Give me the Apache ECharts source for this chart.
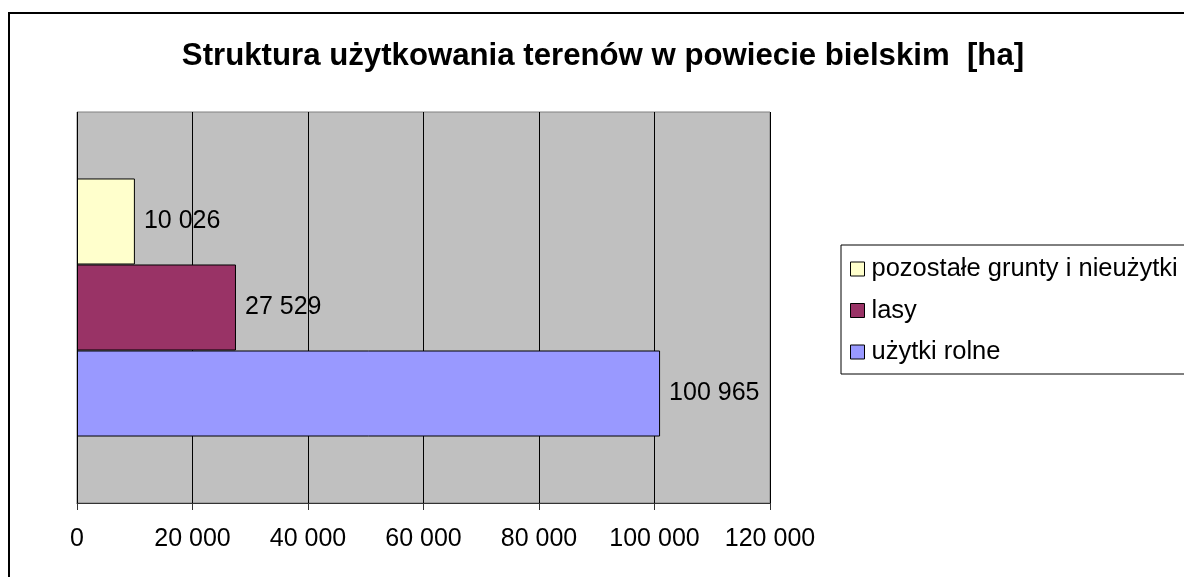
<!DOCTYPE html>
<html>
<head>
<meta charset="utf-8">
<script src="https://cdn.jsdelivr.net/npm/echarts@6/dist/echarts.min.js"></script>
<style>
  html, body { margin: 0; padding: 0; background: #fff; }
  #chart { width: 1184px; height: 577px; }
</style>
</head>
<body>
<div id="chart"></div>
<script>
// data
const categories = ['powiat bielski'];
const seriesNames = ['pozostałe grunty i nieużytki', 'lasy', 'użytki rolne'];
const pozostale = [10026];
const lasy = [27529];
const uzytkiRolne = [100965];
const xTicks = [0, 20000, 40000, 60000, 80000, 100000, 120000];

const colours = ['#FFFFCC', '#993366', '#9999FF'];
const FONT = '"Liberation Sans", Arial, sans-serif';

// "100965" -> "100 965"
const fmt = v => String(v).replace(/\B(?=(\d{3})+(?!\d))/g, ' ');

const chart = echarts.init(document.getElementById('chart'));

const barSeries = (name, data, colour) => ({
    name: name,
    type: 'bar',
    data: data,
    barGap: 0,
    barCategoryGap: '34%',
    itemStyle: { color: colour, borderColor: '#000', borderWidth: 1 },
    label: {
        show: true,
        position: 'right',
        distance: 9,
        color: '#000',
        fontFamily: FONT,
        fontSize: 25,
        formatter: p => fmt(p.value)
    },
    emphasis: { disabled: true }
});

chart.setOption({
    animation: false,
    textStyle: { fontFamily: FONT },
    title: {
        text: 'Struktura użytkowania terenów w powiecie bielskim  [ha]',
        left: 598,
        textAlign: 'center',
        top: 36,
        textStyle: { fontFamily: FONT, fontSize: 31.2, fontWeight: 'bold', color: '#000' }
    },
    graphic: [
        {
            // outer chart frame (runs off right and bottom edges)
            type: 'rect',
            shape: { x: 9, y: 13, width: 1300, height: 700 },
            style: { fill: null, stroke: '#000', lineWidth: 2 },
            silent: true
        }
    ],
    legend: {
        orient: 'vertical',
        left: 841,
        top: 245,
        data: seriesNames,
        icon: 'rect',
        itemWidth: 14,
        itemHeight: 14,
        itemGap: 15.5,
        padding: [11, 8, 9, 9],
        borderColor: '#000',
        borderWidth: 1,
        itemStyle: { borderColor: '#000', borderWidth: 1 },
        textStyle: { fontFamily: FONT, fontSize: 25.5, lineHeight: 24, color: '#000', padding: [0, 0, 0, 2] },
        selectedMode: false
    },
    grid: {
        left: 77,
        top: 112,
        right: 414,
        bottom: 74,
        show: true,
        backgroundColor: '#C0C0C0',
        borderColor: '#808080',
        borderWidth: 1
    },
    xAxis: {
        type: 'value',
        min: xTicks[0],
        max: xTicks[xTicks.length - 1],
        interval: xTicks[1] - xTicks[0],
        axisLine: { show: true, lineStyle: { color: '#333', width: 1 } },
        axisTick: { show: true, length: 7, lineStyle: { color: '#333' } },
        splitLine: { show: true, lineStyle: { color: '#000', width: 1 } },
        axisLabel: {
            color: '#000',
            fontFamily: FONT,
            fontSize: 25,
            margin: 24,
            formatter: v => fmt(v)
        }
    },
    yAxis: {
        type: 'category',
        data: categories,
        axisLine: { show: false },
        axisTick: { show: false },
        axisLabel: { show: false }
    },
    series: [
        barSeries(seriesNames[0], pozostale, colours[0]),
        barSeries(seriesNames[1], lasy, colours[1]),
        barSeries(seriesNames[2], uzytkiRolne, colours[2])
    ]
});
</script>
</body>
</html>
